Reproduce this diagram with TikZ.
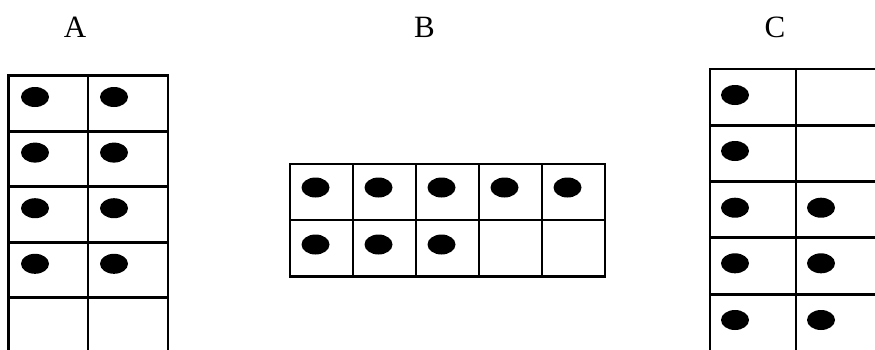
\documentclass[tikz,border=0pt]{standalone}
\usepackage{fontspec}
\setmainfont{Liberation Serif}
\begin{document}
\begin{tikzpicture}[x=1pt,y=-1pt,
  gridline/.style={line width=2.9pt, draw=black},
  dotmark/.style={fill=black},
  lbl/.style={anchor=base, inner sep=0pt, font=\fontsize{31}{31}\selectfont}]
\useasboundingbox (0,0) rectangle (875,349);
\clip (0,0) rectangle (875,349);
% labels
\node[lbl] (labA) at (75,37) {A};
\node[lbl] (labB) at (424.5,37) {B};
\node[lbl] (labC) at (775,37) {C};
% grid A
\draw[gridline] (8.5,75.5) rectangle (168,360);
\draw[gridline] (88,75.5) -- (88,360);
\foreach \y in {131.1,186.7,242.3,297.9} \draw[gridline] (8.5,\y) -- (168,\y);
\foreach \x in {35,114} \foreach \y in {97,152.6,208.2,263.8}
  \fill[dotmark] (\x,\y) ellipse [x radius=14pt, y radius=10pt];
% grid B
\draw[gridline] (290,164) rectangle (605,276.5);
\foreach \x in {353,416,479,542} \draw[gridline] (\x,164) -- (\x,276.5);
\draw[gridline] (290,220) -- (605,220);
\foreach \x in {315.5,378.5,441.5,504.5,567.5}
  \fill[dotmark] (\x,187.5) ellipse [x radius=14pt, y radius=10pt];
\foreach \x in {315.5,378.5,441.5}
  \fill[dotmark] (\x,244.5) ellipse [x radius=14pt, y radius=10pt];
% grid C
\draw[gridline] (710,69) rectangle (882,360);
\draw[gridline] (796,69) -- (796,360);
\foreach \y in {125.3,181.6,237.9,294.2} \draw[gridline] (710,\y) -- (882,\y);
\foreach \y in {95,151,207.7,263.3,320}
  \fill[dotmark] (735,\y) ellipse [x radius=14pt, y radius=10pt];
\foreach \y in {207.7,263.3,320}
  \fill[dotmark] (821,\y) ellipse [x radius=14pt, y radius=10pt];
\end{tikzpicture}
\end{document}
